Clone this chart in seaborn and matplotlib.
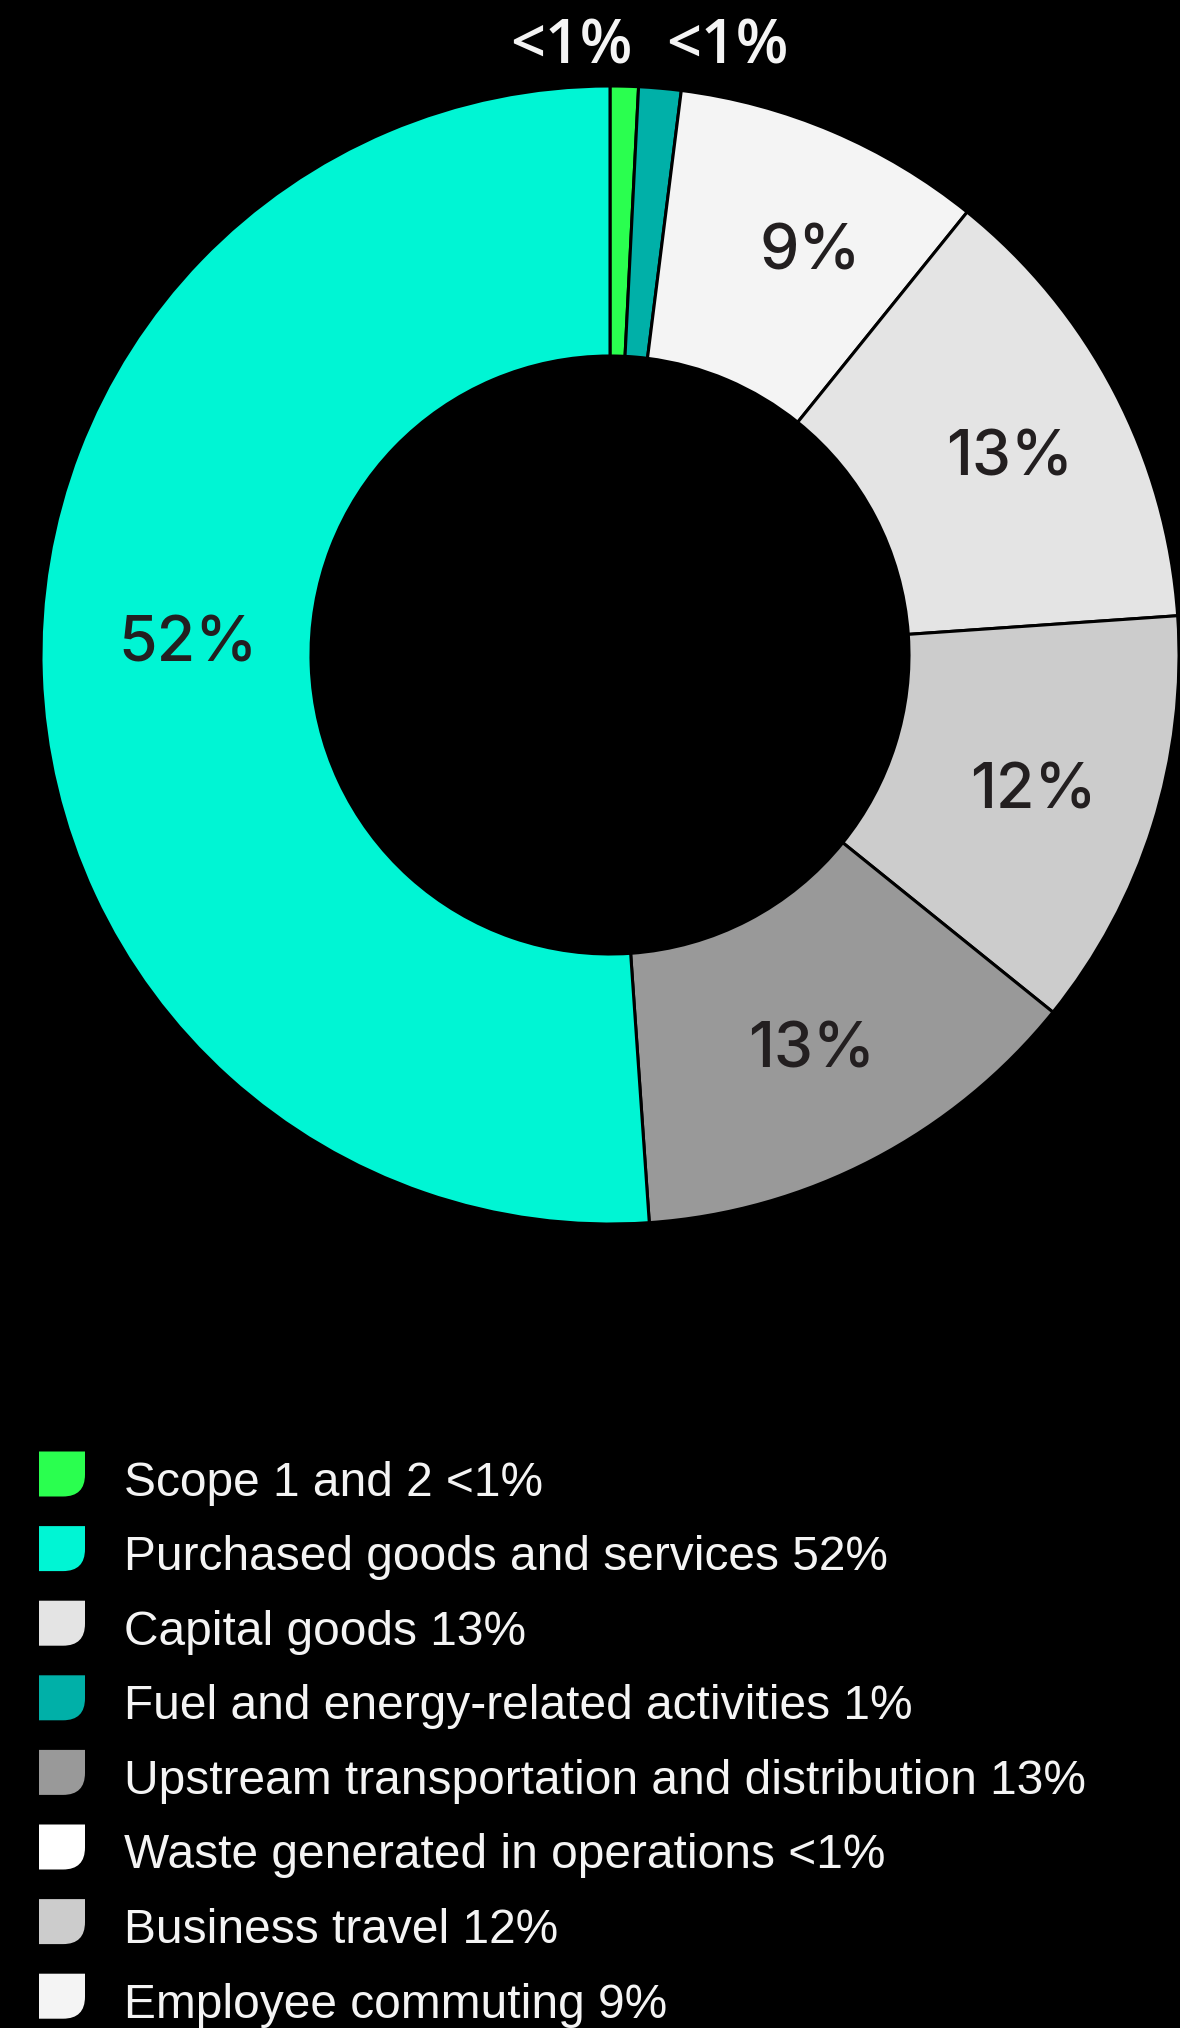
import matplotlib
matplotlib.use("Agg")
import matplotlib.pyplot as plt
from matplotlib.path import Path
from matplotlib.patches import PathPatch
import seaborn as sns
import numpy as np

# ---- data ----
pie_categories = ["Scope 1 and 2", "Fuel and energy-related activities", "Employee commuting",
                  "Capital goods", "Business travel", "Upstream transportation and distribution",
                  "Purchased goods and services"]
pie_values = [0.8, 1.2, 8.8, 13.1, 11.9, 13.1, 51.1]
pie_labels = ["<1%", "<1%", "9%", "13%", "12%", "13%", "52%"]
pie_colors = ["#2aff4f", "#00b0a8", "#f4f4f4", "#e4e4e4", "#cccccc", "#999999", "#00f5d4"]

legend_labels = ["Scope 1 and 2 <1%", "Purchased goods and services 52%", "Capital goods 13%",
                 "Fuel and energy-related activities 1%", "Upstream transportation and distribution 13%",
                 "Waste generated in operations <1%", "Business travel 12%", "Employee commuting 9%"]
legend_colors = ["#2aff4f", "#00f5d4", "#e4e4e4", "#00b0a8", "#999999", "#ffffff", "#cccccc", "#f4f4f4"]

sns.set_style("dark", {"axes.facecolor": "black", "figure.facecolor": "black"})
plt.rcParams["font.family"] = ["Liberation Sans", "DejaVu Sans"]

W, H = 1180, 2028
fig = plt.figure(figsize=(W / 100, H / 100), dpi=100, facecolor="black")

# legend layer (pixel coordinates)
lax = fig.add_axes([0, 0, 1, 1], facecolor="none")
lax.set_xlim(0, W)
lax.set_ylim(H, 0)
lax.axis("off")

# pie axes
cx, cy, R = 610, 655, 569
ax = fig.add_axes([(cx - R) / W, (H - cy - R) / H, 2 * R / W, 2 * R / H], facecolor="none")
palette = sns.color_palette(pie_colors)
wedges, _ = ax.pie(pie_values, colors=palette, startangle=90, counterclock=False,
                   radius=1, wedgeprops=dict(width=0.4745, edgecolor="black", linewidth=2.2))
ax.set_xlim(-1, 1)
ax.set_ylim(-1, 1)
ax.set_aspect("equal")
ax.axis("off")

# label placement tweaks (radius, angle nudge in degrees)
label_style = {2: (0.804, -2.9), 3: (0.789, -0.3), 4: (0.778, 0.6), 5: (0.766, 0.0), 6: (0.743, -4.6)}
small_pos = {0: (-0.0685, 1.067), 1: (0.2056, 1.067)}
for i, (w, lab) in enumerate(zip(wedges, pie_labels)):
    if i in small_pos:
        x, y = small_pos[i]
        ax.text(x, y, lab, ha="center", va="center", fontsize=44, color="#f4f4f4",
                family=["Open Sans", "DejaVu Sans"], fontweight="semibold", clip_on=False)
    else:
        r, dth = label_style[i]
        ang = np.deg2rad((w.theta1 + w.theta2) / 2 + dth)
        ax.text(r * np.cos(ang), r * np.sin(ang) - 0.016, lab, ha="center", va="center",
                fontsize=45, color="#231f20", family=["Inter", "DejaVu Sans"], fontweight="medium")

# legend
row0, spacing = 1474, 74.6
mx0, mx1, mh, rr = 39, 85, 45, 22
for i, (lab, col) in enumerate(zip(legend_labels, legend_colors)):
    yc = row0 + i * spacing
    y0, y1 = yc - mh / 2, yc + mh / 2
    verts = [(mx0, y0), (mx1, y0), (mx1, y1 - rr), (mx1, y1), (mx1 - rr, y1), (mx0, y1), (mx0, y0)]
    codes = [Path.MOVETO, Path.LINETO, Path.LINETO, Path.CURVE3, Path.CURVE3, Path.LINETO, Path.CLOSEPOLY]
    lax.add_patch(PathPatch(Path(verts, codes), facecolor=col, edgecolor="none"))
    lax.text(124, y1 - 1, lab, ha="left", va="baseline", fontsize=34.5, color="#f4f4f4")

fig.savefig("out.png", dpi=100, facecolor="black")
